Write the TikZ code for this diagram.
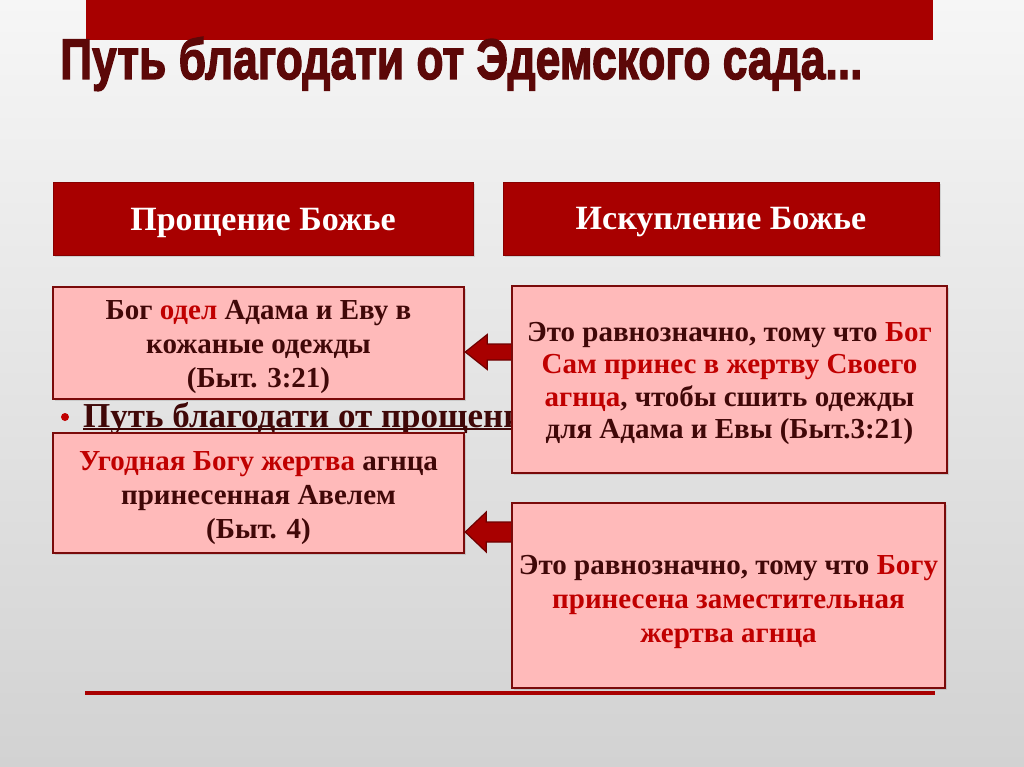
\documentclass[tikz,border=0pt]{standalone}
\usepackage{fontspec}
\usepackage{graphicx}
\setmainfont{Liberation Serif}
\newfontface\titleface[FakeBold=2.5]{Liberation Sans Bold}
\usetikzlibrary{shadows,calc}
\definecolor{barred}{RGB}{168,0,0}
\definecolor{bgtop}{RGB}{246,246,246}
\definecolor{bgbot}{RGB}{210,210,210}
\definecolor{pinkfill}{RGB}{255,186,186}
\definecolor{boxborder}{RGB}{122,10,10}
\definecolor{darktext}{RGB}{64,8,8}
\definecolor{hired}{RGB}{192,0,0}
\definecolor{titlecol}{RGB}{92,8,8}
\definecolor{arrowdark}{RGB}{110,0,0}
\newcommand{\hr}[1]{\textcolor{hired}{#1}}
\tikzset{
  headbox/.style={fill=barred, draw=barred!80!black, line width=0.6pt, inner sep=0pt,
    drop shadow={opacity=0.25, shadow xshift=1.5pt, shadow yshift=-2pt}},
  headtext/.style={inner sep=0pt, text=white, font=\fontsize{34}{40}\selectfont\bfseries},
  pinkbox/.style={fill=pinkfill, draw=boxborder, line width=2.5pt, inner sep=0pt,
    drop shadow={opacity=0.25, shadow xshift=2pt, shadow yshift=-2pt}},
  boxtext/.style={inner sep=0pt, align=center, text=darktext, font=\fontsize{29}{34}\selectfont\bfseries},
  blockarrow/.style={fill=barred, draw=arrowdark, line width=1.2pt, line join=miter},
  redline/.style={draw=barred, line width=3.5pt}
}
\begin{document}
\begin{tikzpicture}[x=1pt,y=-1pt]
\useasboundingbox (0,0) rectangle (1024,767);
\shade[top color=bgtop, bottom color=bgbot] (0,0) rectangle (1024,767);
% top bar
\fill[barred] (86,0) rectangle (933,40);
% title
\node[anchor=base west, inner sep=0pt, text=titlecol] (title) at (60,79)
  {\resizebox{802pt}{42pt}{\titleface Путь благодати от Эдемского сада...}};
% headers
\node[headbox, minimum width=420pt, minimum height=73pt] (h1) at (263,218.5) {};
\node[headbox, minimum width=436pt, minimum height=73pt] (h2) at (721,218.5) {};
\node[headtext] (h1t) at ([yshift=-4pt]h1.center) {Прощение Божье};
\node[headtext] (h2t) at ([yshift=-4pt]h2.center) {Искупление Божье};
% bullet line
\node[circle, fill=hired, minimum size=8pt, inner sep=0pt] (bul) at (65,417) {};
\node[anchor=base west, inner sep=0pt, text=darktext, font=\fontsize{35}{40}\selectfont\bfseries] (bt) at (83,427) {Путь благодати от прощени};
\draw[darktext, line width=2pt] ([yshift=-1.5pt]bt.base west) -- ([yshift=-1.5pt]bt.base east);
% left boxes
\node[pinkbox, minimum width=411pt, minimum height=112pt] (l1) at (258.5,343) {};
\node[boxtext] (l1t) at ([yshift=-4pt]l1.center)
  {Бог \hr{одел} Адама и Еву в\\кожаные одежды\\(Быт. 3:21)};
\node[pinkbox, minimum width=411pt, minimum height=120pt] (l2) at (258.5,493) {};
\node[boxtext] (l2t) at ([yshift=-5pt]l2.center)
  {\hr{Угодная Богу жертва} агнца\\принесенная Авелем\\(Быт. 4)};
% arrows
\coordinate (a1) at (0,352);
\coordinate (a2) at (0,532);
\draw[blockarrow] (l1.east |- a1) -- ++(22,-17.5) -- ++(0,9.5) -- (520,344) -- (520,360)
  -- ($(l1.east |- a1)+(22,8)$) -- ++(0,9.5) -- cycle;
\draw[blockarrow] (l2.east |- a2) -- ++(21,-20) -- ++(0,10) -- (520,522) -- (520,542)
  -- ($(l2.east |- a2)+(21,10)$) -- ++(0,10) -- cycle;
% right boxes
\node[pinkbox, minimum width=435pt, minimum height=187pt] (r1) at (729.5,379.5) {};
\node[boxtext, font=\fontsize{29}{32.5}\selectfont\bfseries] (r1t) at ([yshift=-4pt]r1.center)
  {Это равнозначно, тому что \hr{Бог}\\\hr{Сам принес в жертву Своего}\\\hr{агнца}, чтобы сшить одежды\\для Адама и Евы (Быт.3:21)};
\node[pinkbox, minimum width=433pt, minimum height=185pt] (r2) at (728.5,595.5) {};
\node[boxtext] (r2t) at ([yshift=-6pt]r2.center)
  {Это равнозначно, тому что \hr{Богу}\\\hr{принесена заместительная}\\\hr{жертва агнца}};
% bottom line
\draw[redline] (85,693) -- (935,693);
\end{tikzpicture}
\end{document}
